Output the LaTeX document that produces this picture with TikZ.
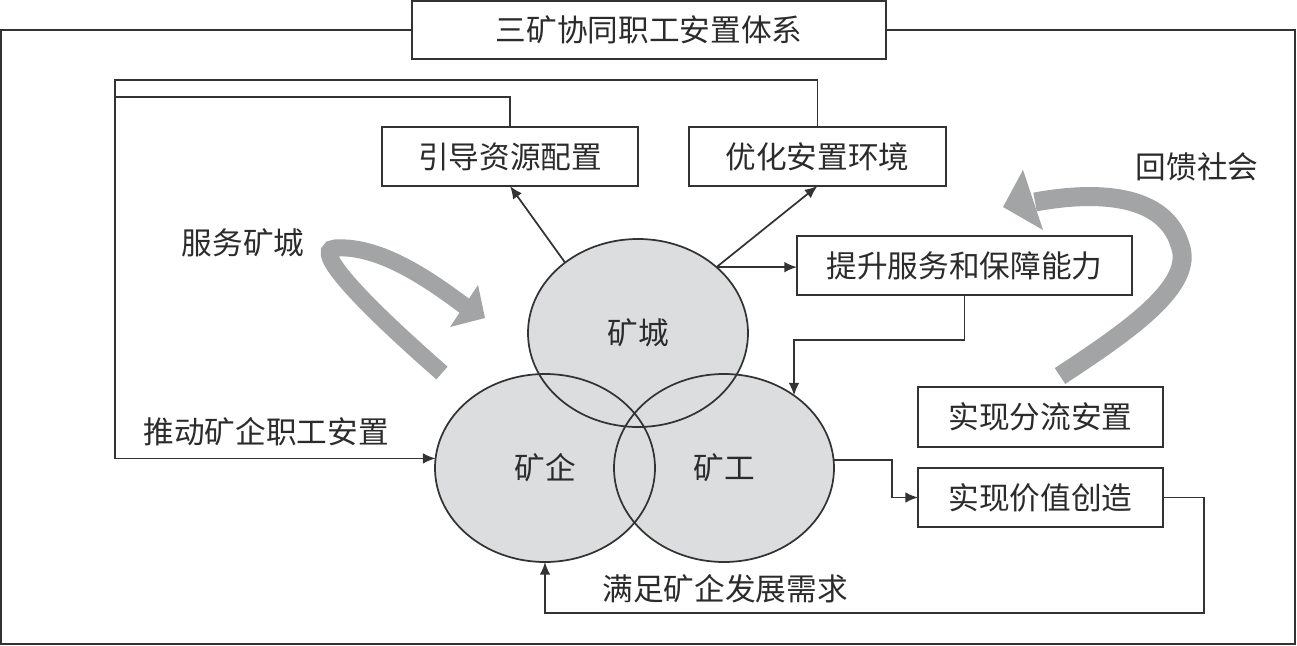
\documentclass[tikz,border=0pt]{standalone}
\usepackage{fontspec}
\newfontfamily\cjk{Noto Sans CJK SC}
\usetikzlibrary{arrows.meta,calc,shapes.geometric}
\definecolor{ln}{HTML}{333333}
\definecolor{txt}{HTML}{2B2B2B}
\definecolor{ellfill}{HTML}{DCDDDF}
\definecolor{bandc}{HTML}{A3A4A6}
\begin{document}
\begin{tikzpicture}[x=0.75pt,y=-0.75pt,
  every node/.style={font=\cjk\fontsize{23pt}{27pt}\selectfont, text=txt},
  box/.style={draw=ln, line width=1.3pt, fill=white, inner sep=0pt, outer sep=0pt, minimum height=44.25pt},
  ell/.style={ellipse, fill=ellfill, inner sep=0pt, outer sep=0pt, minimum width=165pt, minimum height=141pt},
  conn/.style={draw=ln, line width=1.3pt},
  arr/.style={conn, -{Latex[length=9.5pt,width=8pt]}},
  bandline/.style={draw=bandc, line cap=butt}
]
\fill[white] (0,0) rectangle (1297,646);
\useasboundingbox (0,0) rectangle (1297,646);

% outer frame
\draw[conn] (1,30) rectangle (1295,644);
\node[box, minimum width=355.5pt, minimum height=43.5pt] (title) at (649,30) {三矿协同职工安置体系};

% boxes
\node[box, minimum width=192pt] (yd) at (510,156.5) {引导资源配置};
\node[box, minimum width=192.75pt] (yh) at (817.5,156.5) {优化安置环境};
\node[box, minimum width=251.25pt] (ts) at (964.5,265.5) {提升服务和保障能力};
\node[box, minimum width=183.75pt, minimum height=45pt] (fl) at (1040.5,417) {实现分流安置};
\node[box, minimum width=183.75pt] (jz) at (1040.5,497.5) {实现价值创造};

% ellipses
\node[ell] (kc) at (638,333) {矿城};
\node[ell] (kq) at (545,468) {矿企};
\node[ell] (kg) at (724,468) {矿工};
\foreach \n in {kc,kq,kg}
  \draw[conn] (\n.center) ellipse [x radius=110, y radius=94];

% labels
\node (l1) at (243,243) {服务矿城};
\node (l2) at (1197,167) {回馈社会};
\node (l3) at (266,432) {推动矿企职工安置};
\node (l4) at (725,589) {满足矿企发展需求};

% connectors
\coordinate (c3) at (115,80);
\coordinate (c4) at (115,97);
\draw[conn] (yd.north) |- (c4);
\draw[arr] (yh.north) |- (c3) |- (kq.175);
\draw[arr] (kc.136) -- (yd.south);
\draw[arr] (kc.40) -- (yh.south);
\draw[arr] (kc.40) -- (kc.40 -| ts.west);
\coordinate (c1) at (kg.46 |- 0,340);
\draw[arr] (ts.south) |- (c1) -- (kg.46);
\draw[arr] (kg.4) -- ++(58,0) |- (jz.west);
\draw[arr] (jz.east) -- ++(41,0) |- ($(kq.south)+(0,51)$) -- (kq.south);

% gray curved arrows
\draw[bandline, line width=12.75pt] (442,373) .. controls (370,310) and (310,250) .. (335,248)
  .. controls (380,245) and (430,280) .. (466,307);
\fill[bandc] (485,318) -- (478,285) -- (450,327) -- cycle;
\draw[bandline, line width=14.25pt] (1060,376) .. controls (1130,330) and (1195,285) .. (1180,245)
  .. controls (1165,195) and (1100,190) .. (1035,202);
\fill[bandc] (1003,207) -- (1023,170) -- (1043,230) -- cycle;
\end{tikzpicture}
\end{document}
